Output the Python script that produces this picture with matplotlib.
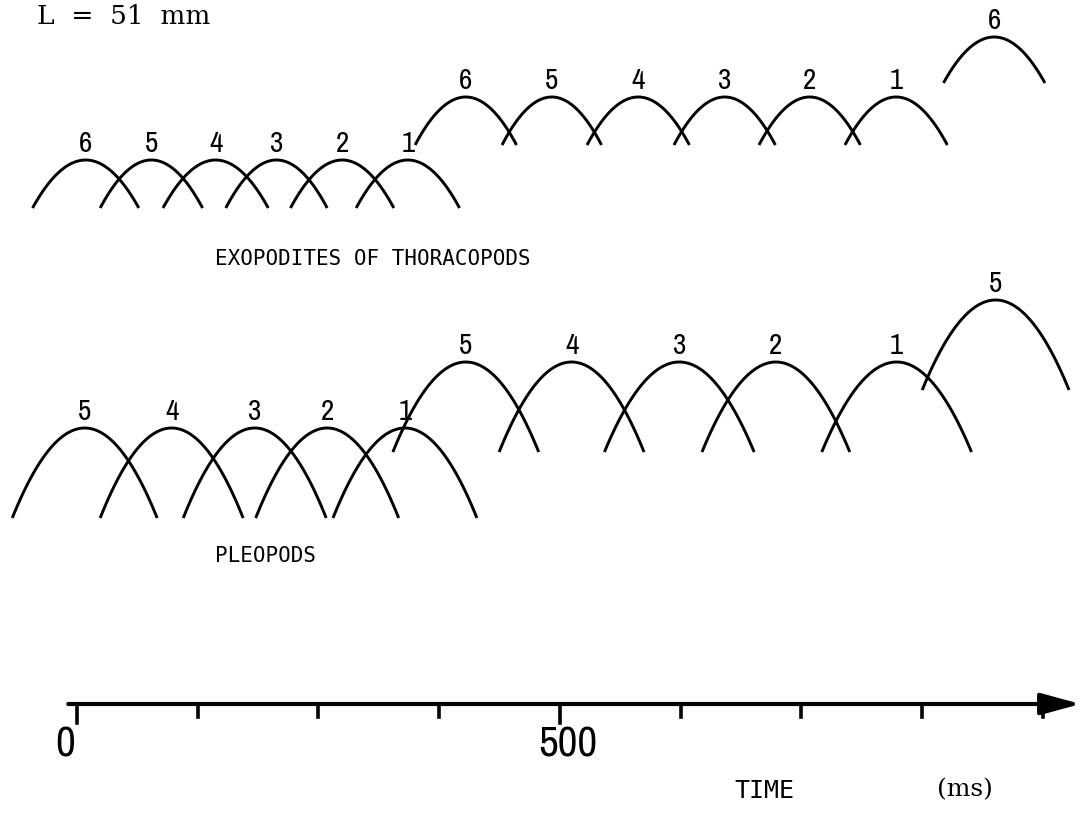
import numpy as np
import matplotlib
matplotlib.use("Agg")
import matplotlib.pyplot as plt
from matplotlib import font_manager

# pick a narrow sans if one is installed
narrow = "DejaVu Sans"
for f in font_manager.fontManager.ttflist:
    if ("Narrow" in f.name or "Condensed" in f.name) and "Mono" not in f.name:
        narrow = f.name
        break
else:
    for f in font_manager.fontManager.ttflist:
        if f.stretch in ("condensed", "semi-condensed", "extra-condensed", 75, 62.5, 87.5) \
                or (isinstance(f.stretch, int) and f.stretch < 500):
            narrow = f.name
            break

# ---- data (times in ms) ----
# exopodites of thoracopods, three successive beat rows
exo_low_labels = [6, 5, 4, 3, 2, 1]
exo_low_start = [-46, 24, 89, 154, 221, 289]
exo_low_end = [64, 130, 198, 259, 328, 396]

exo_mid_labels = [6, 5, 4, 3, 2, 1]
exo_mid_start = [350, 440, 528, 618, 706, 795]
exo_mid_end = [455, 543, 634, 723, 811, 901]

exo_top_labels = [6]
exo_top_start = [897]
exo_top_end = [1002]

# pleopods
pleo_low_labels = [5, 4, 3, 2, 1]
pleo_low_start = [-67, 24, 110, 185, 265]
pleo_low_end = [83, 172, 258, 333, 414]

pleo_mid_labels = [5, 4, 3, 2, 1]
pleo_mid_start = [327, 437, 546, 647, 771]
pleo_mid_end = [478, 587, 701, 800, 926]

pleo_top_labels = [5]
pleo_top_start = [875]
pleo_top_end = [1027]

# time axis
tick_ms = [0, 125, 250, 375, 500, 625, 750, 875, 1000]
tick_labels = {0: "0", 500: "500"}

# ---- figure ----
fig = plt.figure(figsize=(10.82, 8.13), dpi=100)
ax = fig.add_axes([0, 0, 1, 1])
ax.set_xlim(-79.7, 1040.4)
ax.set_ylim(813, 0)   # vertical units are just layout, top = 0
ax.axis("off")


def draw_row(starts, ends, labels, base, amp, lab_gap):
    for s, e, lab in zip(starts, ends, labels):
        t = np.linspace(s, e, 80)
        u = (t - s) / (e - s)
        y = base - amp * (1 - (2 * u - 1) ** 2)
        ax.plot(t, y, color="black", lw=2.1, solid_capstyle="butt")
        ax.text((s + e) / 2, base - amp - lab_gap, str(lab), ha="center",
                va="bottom", fontsize=21, family=narrow)


draw_row(exo_low_start, exo_low_end, exo_low_labels, 208, 48, 3)
draw_row(exo_mid_start, exo_mid_end, exo_mid_labels, 145, 48, 3)
draw_row(exo_top_start, exo_top_end, exo_top_labels, 83, 46, 3)

draw_row(pleo_low_start, pleo_low_end, pleo_low_labels, 518, 90, 3)
draw_row(pleo_mid_start, pleo_mid_end, pleo_mid_labels, 452, 90, 3)
draw_row(pleo_top_start, pleo_top_end, pleo_top_labels, 390, 90, 3)

# time axis with arrow
axis_y = 704
ax.annotate("", xy=(1039, axis_y), xytext=(-9, axis_y),
            arrowprops=dict(arrowstyle="-|>,head_length=1.1,head_width=0.3",
                            lw=3, color="black", mutation_scale=22,
                            shrinkA=0, shrinkB=0))
for tm in tick_ms:
    long = tm in tick_labels
    ax.plot([tm, tm], [axis_y, axis_y + (19 if long else 13)],
            color="black", lw=2.6)
    if long:
        ax.text(tm - (12 if tm == 0 else -8), axis_y + 21, tick_labels[tm],
                ha="center", va="top", fontsize=31, family=narrow)

# texts
ax.text(-41, 17, "L  =  51  mm", ha="left", va="center", fontsize=19,
        family="DejaVu Serif")
ax.text(143, 259, "EXOPODITES OF THORACOPODS", ha="left", va="center",
        fontsize=15, family="DejaVu Sans Mono")
ax.text(143, 556, "PLEOPODS", ha="left", va="center",
        fontsize=15, family="DejaVu Sans Mono")
ax.text(681, 791, "TIME", ha="left", va="center", fontsize=18,
        family="DejaVu Sans Mono")
ax.text(890, 790, "(ms)", ha="left", va="center", fontsize=18,
        family="DejaVu Serif")

fig.savefig("out.png", dpi=100)
